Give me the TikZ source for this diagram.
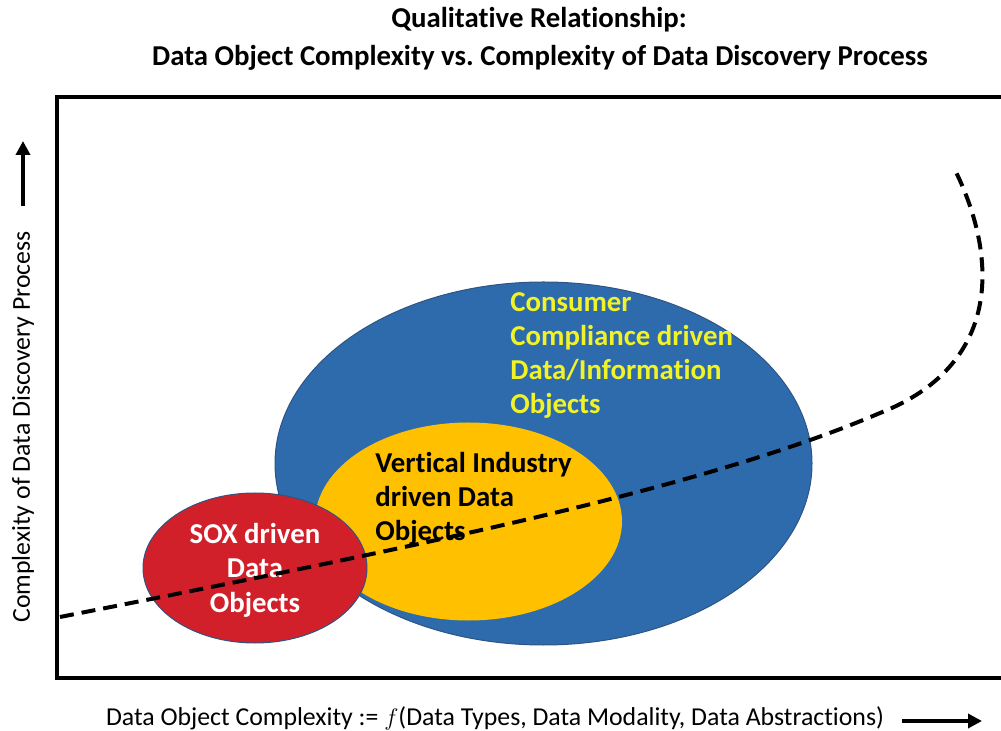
\documentclass[tikz,border=0pt]{standalone}
\usepackage{fontspec}
\setmainfont{Carlito}[Ligatures=NoCommon]
\usetikzlibrary{arrows.meta,shapes.geometric}
\definecolor{blueobj}{RGB}{46,107,172}
\definecolor{blueedge}{RGB}{48,84,130}
\definecolor{goldobj}{RGB}{255,192,0}
\definecolor{redobj}{RGB}{210,32,42}
\definecolor{yellowtxt}{RGB}{242,242,40}
\tikzset{
  blob/.style={ellipse, draw=blueedge, line width=0.5pt, inner sep=0pt},
  bigtxt/.style={font=\fontsize{14.4}{17}\selectfont\bfseries, inner sep=0pt},
  axtxt/.style={font=\fontsize{12.9}{15}\selectfont, inner sep=0pt},
  axarrow/.style={line width=2pt, -{Triangle[length=7pt,width=7pt]}},
  curve/.style={line width=2pt, dash pattern=on 7pt off 4pt},
}
\frenchspacing
\begin{document}
\begin{tikzpicture}[x=0.5pt,y=-0.5pt]
\useasboundingbox (0,0) rectangle (1001,731);
\clip (0,0) rectangle (1001,731);
% title
\node[bigtxt, anchor=base] (t1) at (539,28) {Qualitative Relationship:};
\node[bigtxt, anchor=base] (t2) at (540,66) {Data Object Complexity vs. Complexity of Data Discovery Process};
% ellipses (sizes in pt = half the pixel size)
\node[blob, fill=blueobj, minimum width=268.5pt, minimum height=181.5pt] (blue) at (543.5,463.5) {};
\node[blob, fill=goldobj, draw=none, minimum width=153.5pt, minimum height=99pt] (gold) at (468.5,521.5) {};
\node[blob, fill=redobj, minimum width=112pt, minimum height=75pt] (red) at (255,568) {};
% texts
\node[bigtxt, text=yellowtxt, anchor=base west] (c1) at (510,312) {Consumer};
\node[bigtxt, text=yellowtxt, anchor=base west] (c2) at (510,346) {Compliance driven};
\node[bigtxt, text=yellowtxt, anchor=base west] (c3) at (510,380) {Data/Information};
\node[bigtxt, text=yellowtxt, anchor=base west] (c4) at (510,414) {Objects};
\node[bigtxt, text=black, anchor=base west] (v1) at (375,473) {Vertical Industry};
\node[bigtxt, text=black, anchor=base west] (v2) at (375,507) {driven Data};
\node[bigtxt, text=black, anchor=base west] (v3) at (375,541) {Objects};
\node[bigtxt, text=white, anchor=base] (s1) at (255,544) {SOX driven};
\node[bigtxt, text=white, anchor=base] (s2) at (255,578) {Data};
\node[bigtxt, text=white, anchor=base] (s3) at (255,612) {Objects};
% curve
\draw[curve] (60,617) .. controls (400,550) and (700,490) .. (880,413)
  .. controls (1000,366) and (1000,260) .. (954,168);
% frame
\draw[line width=2pt] (1020,97) -- (57,97) -- (57,678) -- (1020,678);
% axis labels
\node[axtxt, anchor=center] (xl) at (495,718) {Data Object Complexity := $f$(Data Types, Data Modality, Data Abstractions)};
\node[axtxt, anchor=center, rotate=90] (yl) at (23,427) {Complexity of Data Discovery Process};
\coordinate (ya0) at (23,206);
\coordinate (ya1) at (23,141);
\coordinate (xa0) at (902,721);
\coordinate (xa1) at (982,721);
\draw[axarrow] (ya0) -- (ya1);
\draw[axarrow] (xa0) -- (xa1);
\end{tikzpicture}
\end{document}
